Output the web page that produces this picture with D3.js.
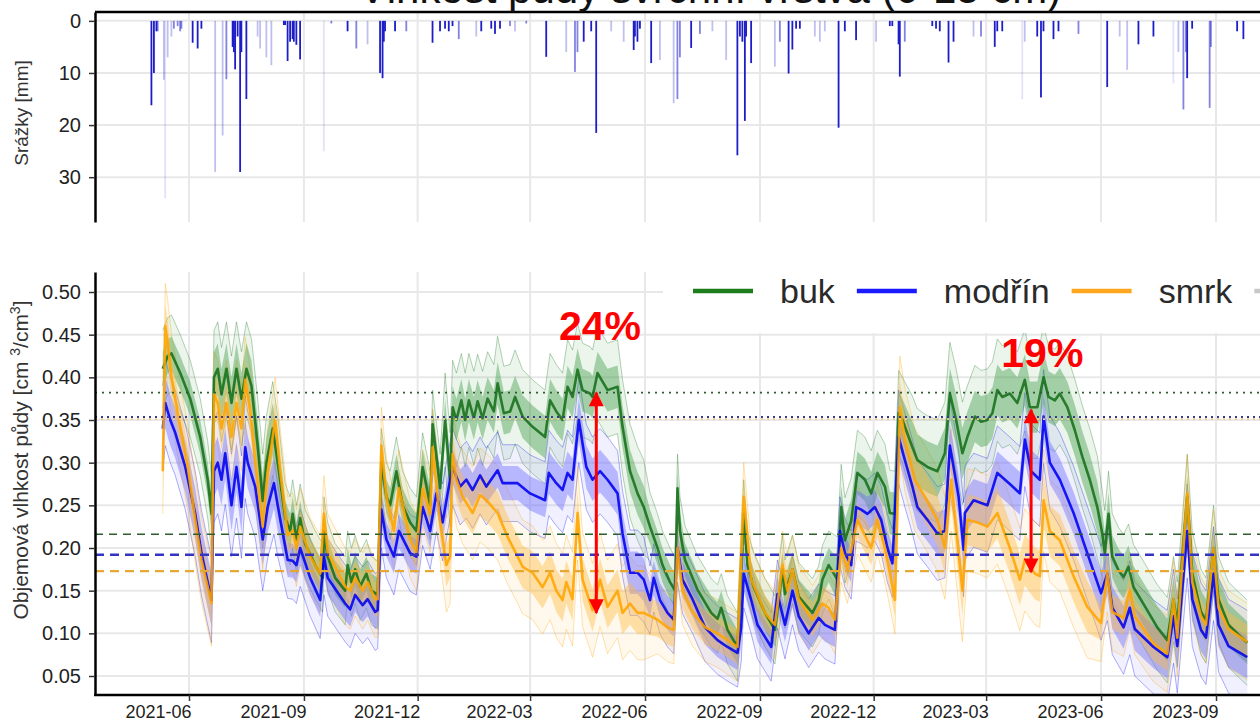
<!DOCTYPE html>
<html>
<head>
<meta charset="utf-8">
<script src="https://cdn.jsdelivr.net/npm/d3@7"></script>
<style>
  body { margin: 0; background: #fff; }
  svg { display: block; font-family: "Liberation Sans", Arial, sans-serif; }
</style>
</head>
<body>
<div id="chart"></div>
<script>
// ---- data ----
const titleText = "Vlhkost půdy svrchní vrstva (0-15 cm)";
const species = ["buk", "modřín", "smrk"];
const xTickLabels = ["2021-06", "2021-09", "2021-12", "2022-03", "2022-06",
                     "2022-09", "2022-12", "2023-03", "2023-06", "2023-09"];
const rainTicks = [0, 10, 20, 30];
const soilTicks = [0.05, 0.10, 0.15, 0.20, 0.25, 0.30, 0.35, 0.40, 0.45, 0.50];

// daily precipitation [date, mm, shade level 1 = dark .. 4 = faint]
const rain = [
  ["2021-05-02",16.2,1],["2021-05-04",10,1],["2021-05-06",2,1],["2021-05-07",2,2],["2021-05-12",11.3,3],
  ["2021-05-13",34,4],["2021-05-15",7,3],["2021-05-18",3,3],["2021-05-20",1.5,2],["2021-05-23",1,2],
  ["2021-05-25",2,2],["2021-05-26",1.5,2],["2021-06-04",4.2,1],["2021-06-08",5.3,1],["2021-06-11",1.5,1],
  ["2021-06-22",29,3],["2021-06-28",22,3],["2021-07-01",11.2,2],["2021-07-06",5,1],["2021-07-07",6,1],
  ["2021-07-08",9.3,1],["2021-07-10",3,1],["2021-07-12",29,1],["2021-07-13",6,1],["2021-07-17",15,1],
  ["2021-07-26",3,3],["2021-07-28",5.3,3],["2021-08-02",7,3],["2021-08-06",8.5,3],["2021-08-16",0.8,1],
  ["2021-08-17",0.8,1],["2021-08-19",7.7,1],["2021-08-21",4,1],["2021-08-23",3.5,1],["2021-08-24",4,1],
  ["2021-08-26",4.6,1],["2021-08-29",7.4,1],["2021-09-17",25,4],["2021-09-23",0.5,2],["2021-10-06",2,1],
  ["2021-10-13",5.3,2],["2021-10-22",4.5,3],["2021-11-01",10,1],["2021-11-03",11,1],["2021-11-04",4,1],
  ["2021-11-05",2,1],["2021-11-13",2,1],["2021-11-22",2,2],["2021-12-13",4.2,1],["2021-12-19",2,1],
  ["2021-12-23",1.5,1],["2021-12-26",2,1],["2021-12-29",1,1],["2022-01-03",3.5,2],["2022-01-17",3,3],
  ["2022-01-21",2,1],["2022-01-29",1.5,1],["2022-02-01",2.5,1],["2022-02-05",1.5,1],["2022-02-13",1,2],
  ["2022-02-17",2,3],["2022-02-26",0.5,2],["2022-03-14",6.9,1],["2022-03-30",6,3],["2022-04-06",9.8,2],
  ["2022-04-08",6,2],["2022-04-13",4,1],["2022-04-19",2,1],["2022-04-23",21.5,1],["2022-05-05",2,3],
  ["2022-05-15",4,3],["2022-05-23",5.6,1],["2022-05-24",3,1],["2022-05-26",4,1],["2022-05-28",1.5,1],
  ["2022-06-06",8.1,1],["2022-06-13",7.5,3],["2022-06-24",15.8,3],["2022-06-27",15,2],["2022-06-29",7,2],
  ["2022-07-08",5.2,1],["2022-07-15",2.5,2],["2022-07-25",2,3],["2022-08-05",7.5,3],["2022-08-14",25.8,1],
  ["2022-08-16",3,1],["2022-08-18",4,1],["2022-08-20",19.2,1],["2022-08-21",3,1],["2022-08-25",8.1,1],
  ["2022-09-13",8.8,3],["2022-09-17",4,2],["2022-09-24",10.1,1],["2022-09-27",5.5,1],["2022-09-30",1.5,1],
  ["2022-10-03",1.5,1],["2022-10-15",3,3],["2022-10-19",4,3],["2022-10-23",2,3],["2022-11-03",20.5,1],
  ["2022-11-08",2,1],["2022-11-17",3.7,1],["2022-12-03",4,3],["2022-12-14",1,1],["2022-12-16",1,1],
  ["2022-12-21",4.5,1],["2022-12-22",10.7,1],["2022-12-26",4,2],["2023-01-17",1,1],["2023-01-20",1.5,1],
  ["2023-01-23",2,1],["2023-01-30",8,1],["2023-02-03",4,1],["2023-02-19",3,3],["2023-02-25",3,2],
  ["2023-03-08",5,1],["2023-03-10",2,1],["2023-03-14",2,1],["2023-03-30",15,4],["2023-04-01",4,3],
  ["2023-04-11",3,1],["2023-04-14",14.7,1],["2023-04-16",2,1],["2023-04-24",3.5,1],["2023-04-28",2,1],
  ["2023-05-14",2.5,2],["2023-06-06",12.7,1],["2023-06-16",3,3],["2023-06-22",9.4,3],["2023-07-01",4.5,1],
  ["2023-07-13",3,1],["2023-07-29",12,4],["2023-08-02",6,3],["2023-08-06",17,2],["2023-08-08",6,2],
  ["2023-08-09",11,1],["2023-08-13",1.5,1],["2023-08-27",16.7,2],["2023-08-28",5,2],["2023-09-18",2,1],
  ["2023-09-23",3.5,1]
];

// mean volumetric soil moisture per species [date, cm3/cm3]
const bukMean = [
  ["2021-05-11",0.41],["2021-05-15",0.425],["2021-05-18",0.428],["2021-05-25",0.405],["2021-06-02",0.375],
  ["2021-06-10",0.33],["2021-06-16",0.28],["2021-06-19",0.24],["2021-06-21",0.40],["2021-06-24",0.41],
  ["2021-06-27",0.38],["2021-07-01",0.41],["2021-07-05",0.37],["2021-07-09",0.41],["2021-07-13",0.375],
  ["2021-07-17",0.41],["2021-07-21",0.39],["2021-07-26",0.32],["2021-07-30",0.255],["2021-08-02",0.30],
  ["2021-08-07",0.34],["2021-08-11",0.30],["2021-08-17",0.235],["2021-08-21",0.22],["2021-08-23",0.24],
  ["2021-08-26",0.21],["2021-08-29",0.235],["2021-09-02",0.205],["2021-09-10",0.18],["2021-09-16",0.165],
  ["2021-09-17",0.22],["2021-09-20",0.19],["2021-09-26",0.165],["2021-10-04",0.15],["2021-10-06",0.18],
  ["2021-10-09",0.16],["2021-10-12",0.175],["2021-10-16",0.155],["2021-10-21",0.17],["2021-10-25",0.15],
  ["2021-10-30",0.145],["2021-11-02",0.30],["2021-11-06",0.26],["2021-11-09",0.25],["2021-11-14",0.29],
  ["2021-11-19",0.25],["2021-11-25",0.23],["2021-11-30",0.22],["2021-12-05",0.295],["2021-12-11",0.25],
  ["2021-12-13",0.345],["2021-12-19",0.27],["2021-12-23",0.35],["2021-12-27",0.28],["2021-12-29",0.365],
  ["2022-01-01",0.35],["2022-01-05",0.373],["2022-01-08",0.35],["2022-01-11",0.373],["2022-01-15",0.352],
  ["2022-01-18",0.372],["2022-01-22",0.352],["2022-01-26",0.375],["2022-01-31",0.36],["2022-02-03",0.393],
  ["2022-02-08",0.358],["2022-02-13",0.36],["2022-02-17",0.377],["2022-02-23",0.354],["2022-03-03",0.342],
  ["2022-03-13",0.33],["2022-03-17",0.373],["2022-03-22",0.36],["2022-03-27",0.35],["2022-03-31",0.389],
  ["2022-04-04",0.377],["2022-04-08",0.409],["2022-04-12",0.385],["2022-04-18",0.381],["2022-04-20",0.377],
  ["2022-04-24",0.405],["2022-05-02",0.385],["2022-05-10",0.389],["2022-05-14",0.342],["2022-05-20",0.29],
  ["2022-05-26",0.264],["2022-05-31",0.248],["2022-06-05",0.225],["2022-06-11",0.20],["2022-06-15",0.18],
  ["2022-06-21",0.16],["2022-06-25",0.15],["2022-06-27",0.27],["2022-06-29",0.22],["2022-07-03",0.186],
  ["2022-07-13",0.151],["2022-07-24",0.124],["2022-07-29",0.117],["2022-08-01",0.13],["2022-08-06",0.104],
  ["2022-08-14",0.084],["2022-08-19",0.24],["2022-08-22",0.18],["2022-08-27",0.154],["2022-09-05",0.124],
  ["2022-09-13",0.104],["2022-09-19",0.175],["2022-09-21",0.146],["2022-09-27",0.175],["2022-10-02",0.143],
  ["2022-10-13",0.124],["2022-10-18",0.139],["2022-10-21",0.163],["2022-10-26",0.18],["2022-11-02",0.163],
  ["2022-11-05",0.248],["2022-11-08",0.209],["2022-11-13",0.232],["2022-11-18",0.288],["2022-11-24",0.28],
  ["2022-11-29",0.264],["2022-12-04",0.288],["2022-12-10",0.272],["2022-12-14",0.241],["2022-12-18",0.24],
  ["2022-12-21",0.358],["2022-12-24",0.35],["2023-01-01",0.318],["2023-01-05",0.303],["2023-01-13",0.295],
  ["2023-01-21",0.29],["2023-01-27",0.311],["2023-01-31",0.381],["2023-02-05",0.35],["2023-02-10",0.311],
  ["2023-02-14",0.33],["2023-02-20",0.354],["2023-02-25",0.348],["2023-03-02",0.35],["2023-03-06",0.358],
  ["2023-03-10",0.385],["2023-03-14",0.377],["2023-03-20",0.381],["2023-03-26",0.37],["2023-04-01",0.397],
  ["2023-04-05",0.365],["2023-04-11",0.365],["2023-04-16",0.40],["2023-04-20",0.377],["2023-04-25",0.373],
  ["2023-04-29",0.381],["2023-05-05",0.365],["2023-05-11",0.338],["2023-05-17",0.307],["2023-05-23",0.28],
  ["2023-05-29",0.248],["2023-06-02",0.217],["2023-06-04",0.194],["2023-06-07",0.24],["2023-06-10",0.19],
  ["2023-06-15",0.174],["2023-06-19",0.166],["2023-06-23",0.178],["2023-06-27",0.154],["2023-07-08",0.127],
  ["2023-07-16",0.107],["2023-07-24",0.092],["2023-07-29",0.14],["2023-08-01",0.11],["2023-08-09",0.26],
  ["2023-08-13",0.17],["2023-08-20",0.125],["2023-08-24",0.115],["2023-08-30",0.20],["2023-09-03",0.14],
  ["2023-09-11",0.11],["2023-09-18",0.10],["2023-09-26",0.089]
];
const modrinMean = [
  ["2021-05-11",0.34],["2021-05-13",0.37],["2021-05-17",0.35],["2021-05-21",0.335],["2021-05-29",0.295],
  ["2021-06-06",0.24],["2021-06-11",0.194],["2021-06-19",0.139],["2021-06-21",0.29],["2021-06-24",0.30],
  ["2021-06-27",0.28],["2021-06-30",0.311],["2021-07-05",0.25],["2021-07-09",0.295],["2021-07-13",0.248],
  ["2021-07-16",0.318],["2021-07-18",0.30],["2021-07-24",0.272],["2021-07-30",0.21],["2021-08-03",0.248],
  ["2021-08-08",0.276],["2021-08-11",0.25],["2021-08-19",0.186],["2021-08-23",0.185],["2021-08-26",0.18],
  ["2021-08-29",0.20],["2021-09-06",0.165],["2021-09-14",0.139],["2021-09-17",0.19],["2021-09-20",0.165],
  ["2021-10-04",0.135],["2021-10-08",0.128],["2021-10-12",0.145],["2021-10-18",0.133],["2021-10-22",0.14],
  ["2021-10-28",0.125],["2021-10-30",0.127],["2021-11-02",0.245],["2021-11-06",0.21],["2021-11-12",0.19],
  ["2021-11-16",0.22],["2021-11-25",0.194],["2021-11-30",0.19],["2021-12-05",0.248],["2021-12-11",0.22],
  ["2021-12-16",0.264],["2021-12-21",0.23],["2021-12-25",0.264],["2021-12-29",0.295],["2022-01-04",0.272],
  ["2022-01-09",0.28],["2022-01-14",0.268],["2022-01-20",0.285],["2022-01-25",0.272],["2022-02-03",0.291],
  ["2022-02-07",0.276],["2022-02-19",0.276],["2022-03-01",0.264],["2022-03-13",0.256],["2022-03-16",0.288],
  ["2022-03-22",0.276],["2022-03-27",0.268],["2022-03-31",0.288],["2022-04-04",0.28],["2022-04-09",0.35],
  ["2022-04-15",0.295],["2022-04-20",0.28],["2022-04-26",0.29],["2022-05-02",0.28],["2022-05-10",0.264],
  ["2022-05-14",0.217],["2022-05-20",0.171],["2022-05-26",0.171],["2022-05-31",0.163],["2022-06-05",0.139],
  ["2022-06-08",0.165],["2022-06-13",0.139],["2022-06-19",0.124],["2022-06-24",0.116],["2022-06-27",0.20],
  ["2022-07-01",0.163],["2022-07-09",0.14],["2022-07-19",0.107],["2022-07-29",0.092],["2022-08-06",0.084],
  ["2022-08-14",0.077],["2022-08-17",0.107],["2022-08-19",0.17],["2022-08-25",0.139],["2022-08-30",0.11],
  ["2022-09-10",0.084],["2022-09-15",0.146],["2022-09-21",0.11],["2022-09-27",0.15],["2022-10-02",0.12],
  ["2022-10-10",0.10],["2022-10-18",0.118],["2022-10-23",0.11],["2022-10-31",0.104],["2022-11-04",0.22],
  ["2022-11-08",0.194],["2022-11-13",0.18],["2022-11-17",0.248],["2022-11-21",0.245],["2022-11-26",0.24],
  ["2022-12-02",0.248],["2022-12-07",0.233],["2022-12-12",0.20],["2022-12-16",0.182],["2022-12-21",0.33],
  ["2022-12-26",0.303],["2023-01-01",0.272],["2023-01-05",0.248],["2023-01-13",0.233],["2023-01-21",0.217],
  ["2023-01-27",0.22],["2023-01-31",0.32],["2023-02-07",0.26],["2023-02-11",0.198],["2023-02-12",0.241],
  ["2023-02-19",0.256],["2023-03-02",0.25],["2023-03-10",0.288],["2023-03-20",0.275],["2023-03-28",0.264],
  ["2023-04-01",0.327],["2023-04-06",0.29],["2023-04-13",0.28],["2023-04-16",0.354],["2023-04-21",0.30],
  ["2023-04-29",0.28],["2023-05-10",0.241],["2023-05-21",0.194],["2023-06-01",0.147],["2023-06-06",0.17],
  ["2023-06-10",0.13],["2023-06-19",0.107],["2023-06-24",0.13],["2023-06-28",0.105],["2023-07-13",0.084],
  ["2023-07-24",0.072],["2023-07-29",0.12],["2023-08-01",0.085],["2023-08-09",0.22],["2023-08-13",0.14],
  ["2023-08-20",0.104],["2023-08-24",0.095],["2023-08-30",0.17],["2023-09-03",0.11],["2023-09-11",0.085],
  ["2023-09-26",0.072]
];
const smrkMean = [
  ["2021-05-11",0.29],["2021-05-13",0.46],["2021-05-15",0.44],["2021-05-18",0.40],["2021-05-23",0.358],
  ["2021-05-31",0.295],["2021-06-06",0.233],["2021-06-11",0.186],["2021-06-19",0.135],["2021-06-21",0.38],
  ["2021-06-24",0.37],["2021-06-27",0.34],["2021-07-01",0.37],["2021-07-05",0.33],["2021-07-09",0.37],
  ["2021-07-13",0.34],["2021-07-16",0.397],["2021-07-20",0.36],["2021-07-25",0.29],["2021-07-30",0.225],
  ["2021-08-03",0.29],["2021-08-09",0.35],["2021-08-13",0.29],["2021-08-19",0.215],["2021-08-23",0.22],
  ["2021-08-26",0.20],["2021-08-29",0.225],["2021-09-06",0.19],["2021-09-14",0.17],["2021-09-17",0.24],
  ["2021-09-20",0.195],["2021-10-04",0.155],["2021-10-08",0.15],["2021-10-12",0.165],["2021-10-18",0.15],
  ["2021-10-22",0.16],["2021-10-28",0.14],["2021-10-30",0.14],["2021-11-02",0.32],["2021-11-06",0.26],
  ["2021-11-12",0.22],["2021-11-16",0.27],["2021-11-25",0.21],["2021-11-30",0.195],["2021-12-05",0.27],
  ["2021-12-11",0.24],["2021-12-13",0.318],["2021-12-19",0.23],["2021-12-24",0.18],["2021-12-27",0.19],
  ["2021-12-29",0.31],["2022-01-01",0.28],["2022-01-06",0.26],["2022-01-14",0.241],["2022-01-20",0.262],
  ["2022-01-25",0.256],["2022-02-03",0.241],["2022-02-11",0.213],["2022-02-19",0.19],["2022-02-23",0.178],
  ["2022-03-03",0.171],["2022-03-11",0.154],["2022-03-17",0.171],["2022-03-22",0.15],["2022-03-27",0.139],
  ["2022-03-30",0.16],["2022-04-04",0.14],["2022-04-08",0.241],["2022-04-12",0.163],["2022-04-20",0.127],
  ["2022-04-26",0.163],["2022-05-02",0.131],["2022-05-10",0.15],["2022-05-14",0.124],["2022-05-20",0.135],
  ["2022-05-26",0.124],["2022-05-31",0.124],["2022-06-11",0.116],["2022-06-19",0.107],["2022-06-24",0.104],
  ["2022-06-27",0.20],["2022-07-01",0.15],["2022-07-09",0.125],["2022-07-19",0.107],["2022-07-29",0.10],
  ["2022-08-06",0.092],["2022-08-14",0.084],["2022-08-19",0.26],["2022-08-25",0.163],["2022-09-05",0.124],
  ["2022-09-13",0.11],["2022-09-19",0.18],["2022-09-23",0.15],["2022-09-27",0.175],["2022-10-02",0.14],
  ["2022-10-13",0.116],["2022-10-21",0.135],["2022-10-26",0.13],["2022-10-31",0.116],["2022-11-05",0.20],
  ["2022-11-10",0.175],["2022-11-18",0.233],["2022-11-24",0.215],["2022-11-29",0.20],["2022-12-04",0.233],
  ["2022-12-10",0.20],["2022-12-15",0.163],["2022-12-18",0.139],["2022-12-22",0.365],["2022-12-26",0.327],
  ["2023-01-03",0.28],["2023-01-11",0.26],["2023-01-21",0.233],["2023-01-27",0.20],["2023-02-01",0.28],
  ["2023-02-10",0.15],["2023-02-14",0.233],["2023-02-22",0.23],["2023-03-02",0.225],["2023-03-10",0.241],
  ["2023-03-20",0.20],["2023-03-28",0.163],["2023-04-01",0.186],["2023-04-09",0.17],["2023-04-13",0.167],
  ["2023-04-16",0.256],["2023-04-21",0.22],["2023-04-29",0.209],["2023-05-10",0.167],["2023-05-21",0.131],
  ["2023-06-01",0.112],["2023-06-06",0.17],["2023-06-10",0.125],["2023-06-19",0.118],["2023-06-24",0.15],
  ["2023-06-28",0.12],["2023-07-13",0.088],["2023-07-24",0.076],["2023-07-29",0.14],["2023-08-01",0.095],
  ["2023-08-09",0.264],["2023-08-13",0.16],["2023-08-20",0.12],["2023-08-24",0.11],["2023-08-30",0.20],
  ["2023-09-03",0.13],["2023-09-11",0.105],["2023-09-26",0.09]
];

// half-width of the ribbon and of the spread of single sensors, by period [from, ribbon, spread]
const bukSpread = [["2021-05-01",0.02,0.045],["2021-06-21",0.03,0.055],["2021-08-15",0.02,0.04],
  ["2021-12-20",0.025,0.055],["2022-06-01",0.02,0.04],["2022-11-01",0.025,0.05],["2023-01-01",0.03,0.06],
  ["2023-06-01",0.025,0.05]];
const modrinSpread = [["2021-05-01",0.03,0.05],["2021-06-21",0.03,0.06],["2021-08-15",0.02,0.045],
  ["2022-03-15",0.025,0.05],["2022-06-01",0.02,0.04],["2022-12-20",0.025,0.055]];
const smrkSpread = [["2021-05-01",0.025,0.05],["2021-08-15",0.02,0.045],["2021-12-20",0.025,0.055],
  ["2022-06-01",0.02,0.04],["2022-12-20",0.03,0.06],["2023-06-01",0.02,0.045]];

// horizontal reference levels (dotted: upper, dashed: lower)
const refLevels = [0.382, 0.3535, 0.351, 0.216, 0.192, 0.173];

// annotated differences
const notes = [
  { label: "24%", date: "2022-04-23", top: 0.382, bottom: 0.124, labelDate: "2022-04-26", labelV: 0.444 },
  { label: "19%", date: "2023-04-06", top: 0.362, bottom: 0.172, labelDate: "2023-04-15", labelV: 0.412 }
];

// ---- drawing ----
const W = 1260, H = 724;
const parse = d3.utcParse("%Y-%m-%d");
const colors = { "buk": "#16701a", "modřín": "#0000f0", "smrk": "#ffa500" };
const bandColors = { "buk": "#3f9a45", "modřín": "#6a6aff", "smrk": "#ffb940" };
const legendColors = { "buk": "#1d7d1d", "modřín": "#1a1aff", "smrk": "#ffa620" };

const series = [
  { name: "buk", mean: bukMean, spread: bukSpread },
  { name: "modřín", mean: modrinMean, spread: modrinSpread },
  { name: "smrk", mean: smrkMean, spread: smrkSpread }
].map(s => {
  const periods = s.spread.map(p => ({ from: parse(p[0]), band: p[1], sd: p[2] }));
  const pts = s.mean.map(d => {
    const date = parse(d[0]);
    let per = periods[0];
    periods.forEach(p => { if (p.from <= date) per = p; });
    return { date: date, v: d[1], band: per.band, sd: per.sd };
  });
  return { name: s.name, pts: pts };
});

const svg = d3.select("#chart").append("svg")
  .attr("width", W).attr("height", H);

const left = 95, right = 1262;
const x = d3.scaleUtc()
  .domain([parse("2021-06-01"), parse("2023-09-01")])
  .range([189, 1216]);
const yRain = d3.scaleLinear().domain([-1.7, 38.6]).range([12, 222]);
const ySoil = d3.scaleLinear().domain([0.02773, 0.52344]).range([695, 272]);
const xTicks = xTickLabels.map(t => parse(t + "-01"));

const gridColor = "#e8e8e8";

// ---------- top panel: precipitation ----------
const rainPanel = svg.append("g");
rainPanel.selectAll(".hgrid").data(rainTicks).enter().append("line")
  .attr("x1", left).attr("x2", right)
  .attr("y1", d => yRain(d)).attr("y2", d => yRain(d))
  .attr("stroke", gridColor).attr("stroke-width", 2);
rainPanel.selectAll(".vgrid").data(xTicks).enter().append("line")
  .attr("x1", d => x(d)).attr("x2", d => x(d))
  .attr("y1", 12).attr("y2", 222)
  .attr("stroke", gridColor).attr("stroke-width", 2);

const shade = { 1: 1, 2: 0.55, 3: 0.28, 4: 0.13 };
rainPanel.selectAll(".bar").data(rain).enter().append("rect")
  .attr("x", d => x(parse(d[0])) - 1)
  .attr("y", yRain(0))
  .attr("width", 1.8)
  .attr("height", d => yRain(d[1]) - yRain(0))
  .attr("fill", "#1e1ec8")
  .attr("opacity", d => shade[d[2]]);

rainPanel.append("line").attr("x1", left).attr("x2", right).attr("y1", 12).attr("y2", 12)
  .attr("stroke", "#000").attr("stroke-width", 2.5);
const rainAxis = rainPanel.append("g").attr("transform", `translate(${left},0)`)
  .call(d3.axisLeft(yRain).tickValues(rainTicks).tickSize(6).tickSizeOuter(0).tickPadding(8));
rainAxis.select(".domain").attr("stroke-width", 2.5);
rainAxis.selectAll(".tick line").attr("stroke", "#333").attr("stroke-width", 1.5);
rainAxis.selectAll(".tick text").attr("font-size", 20).attr("fill", "#222")
  .attr("font-family", "Liberation Sans, Arial, sans-serif");

svg.append("text")
  .attr("transform", "translate(28,113) rotate(-90)")
  .attr("text-anchor", "middle").attr("font-size", 19).attr("fill", "#333")
  .text("Srážky [mm]");

// ---------- bottom panel: soil moisture ----------
const soilPanel = svg.append("g");
soilPanel.selectAll(".hgrid").data(soilTicks).enter().append("line")
  .attr("x1", left).attr("x2", right)
  .attr("y1", d => ySoil(d)).attr("y2", d => ySoil(d))
  .attr("stroke", gridColor).attr("stroke-width", 2);
soilPanel.selectAll(".vgrid").data(xTicks).enter().append("line")
  .attr("x1", d => x(d)).attr("x2", d => x(d))
  .attr("y1", 272).attr("y2", 695)
  .attr("stroke", gridColor).attr("stroke-width", 2);

const defs = svg.append("defs");
defs.append("clipPath").attr("id", "clip")
  .append("rect").attr("x", left).attr("y", 272).attr("width", right - left).attr("height", 423);
const plot = soilPanel.append("g").attr("clip-path", "url(#clip)");

const outer = d3.area().x(d => x(d.date)).y0(d => ySoil(d.v - d.sd)).y1(d => ySoil(d.v + d.sd));
const band = d3.area().x(d => x(d.date)).y0(d => ySoil(d.v - d.band)).y1(d => ySoil(d.v + d.band));
const lineLo = d3.line().x(d => x(d.date)).y(d => ySoil(d.v - d.sd));
const lineHi = d3.line().x(d => x(d.date)).y(d => ySoil(d.v + d.sd));
const lineMean = d3.line().x(d => x(d.date)).y(d => ySoil(d.v));

series.forEach(s => {
  plot.append("path").attr("d", outer(s.pts)).attr("fill", bandColors[s.name]).attr("opacity", 0.1);
  [lineLo, lineHi].forEach(g => plot.append("path").attr("d", g(s.pts))
    .attr("fill", "none").attr("stroke", colors[s.name]).attr("stroke-width", 0.8).attr("opacity", 0.4));
});
series.forEach(s => {
  plot.append("path").attr("d", band(s.pts)).attr("fill", bandColors[s.name]).attr("opacity", 0.42);
});
series.forEach(s => {
  plot.append("path").attr("d", lineMean(s.pts)).attr("fill", "none")
    .attr("stroke", colors[s.name]).attr("stroke-width", 2.6)
    .attr("stroke-linejoin", "round").attr("opacity", 0.88);
});

// reference levels
const refStyle = [
  { c: "#2e5e2e", dash: "2,5", w: 1.8 },
  { c: "#3a3a90", dash: "2,4", w: 1.8 },
  { c: "#f3c98a", dash: "2,4", w: 1.8 },
  { c: "#2e5e2e", dash: "8,6", w: 1.5 },
  { c: "#3434c0", dash: "9,6", w: 2.4 },
  { c: "#e6a834", dash: "9,6", w: 2.2 }
];
soilPanel.selectAll(".ref").data(refLevels).enter().append("line")
  .attr("x1", left).attr("x2", right)
  .attr("y1", d => ySoil(d)).attr("y2", d => ySoil(d))
  .attr("stroke", (d, i) => refStyle[i].c)
  .attr("stroke-dasharray", (d, i) => refStyle[i].dash)
  .attr("stroke-width", (d, i) => refStyle[i].w);

// axes
const soilAxis = soilPanel.append("g").attr("transform", `translate(${left},0)`)
  .call(d3.axisLeft(ySoil).tickValues(soilTicks).tickFormat(d3.format(".2f"))
    .tickSize(6).tickSizeOuter(0).tickPadding(8));
soilAxis.select(".domain").attr("stroke-width", 2.5);
soilAxis.selectAll(".tick line").attr("stroke", "#333").attr("stroke-width", 1.5);
soilAxis.selectAll(".tick text").attr("font-size", 20).attr("fill", "#222")
  .attr("font-family", "Liberation Sans, Arial, sans-serif");

soilPanel.append("line").attr("x1", left - 1).attr("x2", right).attr("y1", 695).attr("y2", 695)
  .attr("stroke", "#000").attr("stroke-width", 2.5);
const xAxis = soilPanel.append("g").attr("transform", "translate(0,695)")
  .call(d3.axisBottom(x).tickValues(xTicks).tickFormat(d3.utcFormat("%Y-%m"))
    .tickSize(6).tickSizeOuter(0).tickPadding(4));
xAxis.select(".domain").remove();
xAxis.selectAll(".tick line").attr("stroke", "#333").attr("stroke-width", 1.5);
xAxis.selectAll(".tick text").attr("font-size", 18).attr("fill", "#222").attr("dx", -31)
  .attr("font-family", "Liberation Sans, Arial, sans-serif");

const ylab = svg.append("text")
  .attr("transform", "translate(28,460) rotate(-90)")
  .attr("text-anchor", "middle").attr("font-size", 21).attr("fill", "#333");
ylab.append("tspan").text("Objemová vlhkost půdy [cm ");
ylab.append("tspan").attr("font-size", 14).attr("dy", -8).text("3");
ylab.append("tspan").attr("dy", 8).text("/cm");
ylab.append("tspan").attr("font-size", 14).attr("dy", -8).text("3");
ylab.append("tspan").attr("dy", 8).text("]");

// legend
svg.append("rect").attr("x", 663).attr("y", 270).attr("width", W - 663).attr("height", 63)
  .attr("fill", "#fff");
let lx = 693;
species.forEach(name => {
  svg.append("line").attr("x1", lx).attr("x2", lx + 60).attr("y1", 291).attr("y2", 291)
    .attr("stroke", legendColors[name]).attr("stroke-width", 4.5);
  const t = svg.append("text").attr("x", lx + 87).attr("y", 303)
    .attr("font-size", 34).attr("fill", "#2a2a2a").text(name);
  lx = lx + 87 + t.node().getComputedTextLength() + 22;
});
svg.append("line").attr("x1", lx).attr("x2", lx + 60).attr("y1", 291).attr("y2", 291)
  .attr("stroke", "#c8c8c8").attr("stroke-width", 4.5);

// annotations
const red = "#ff0000";
defs.append("marker").attr("id", "head")
  .attr("viewBox", "0 0 10 10").attr("refX", 9).attr("refY", 5)
  .attr("markerWidth", 6).attr("markerHeight", 5).attr("orient", "auto-start-reverse")
  .attr("markerUnits", "strokeWidth")
  .append("path").attr("d", "M0,0 L10,5 L0,10 Z").attr("fill", red);
notes.forEach(n => {
  const ax = x(parse(n.date));
  svg.append("line").attr("x1", ax).attr("x2", ax)
    .attr("y1", ySoil(n.top)).attr("y2", ySoil(n.bottom))
    .attr("stroke", red).attr("stroke-width", 3)
    .attr("marker-start", "url(#head)").attr("marker-end", "url(#head)");
  svg.append("text").attr("x", x(parse(n.labelDate))).attr("y", ySoil(n.labelV))
    .attr("text-anchor", "middle").attr("font-size", 41).attr("font-weight", "bold")
    .attr("fill", red).text(n.label);
});

// title (cut by the top of the picture)
svg.append("text").attr("x", 710).attr("y", 3).attr("text-anchor", "middle")
  .attr("font-size", 42).attr("fill", "#111").text(titleText);
</script>
</body>
</html>
